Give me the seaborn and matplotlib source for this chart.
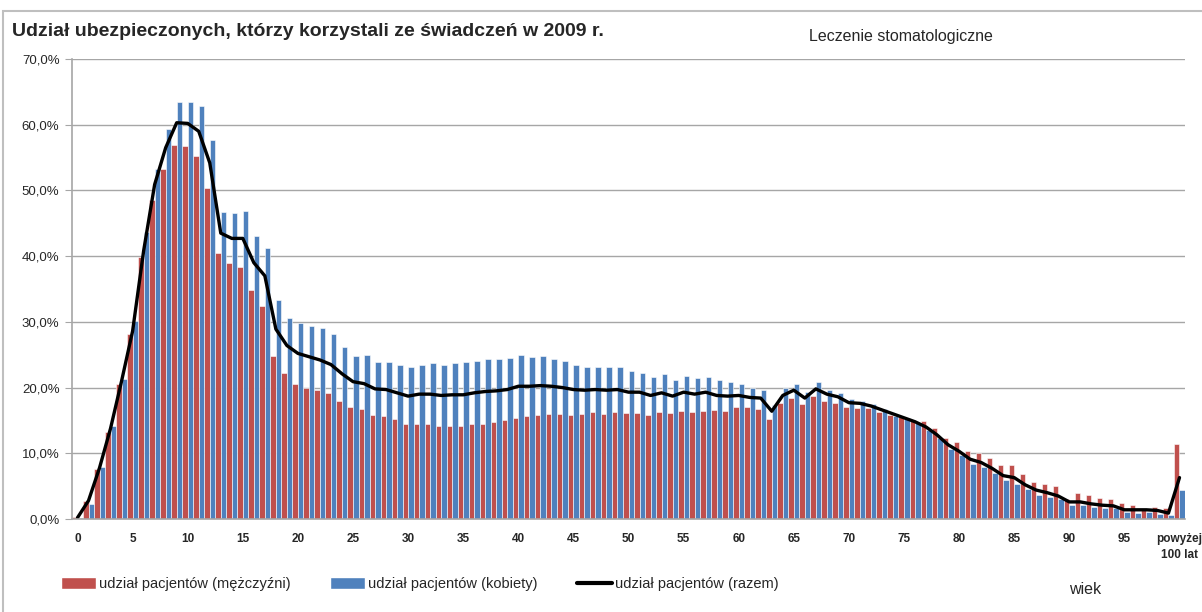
import matplotlib
matplotlib.use("Agg")
import matplotlib.pyplot as plt
from matplotlib.patches import Patch, Rectangle
from matplotlib.lines import Line2D
from matplotlib.ticker import FuncFormatter
import seaborn as sns
import pandas as pd
import numpy as np

# wiek 0..99 + "powyżej 100 lat"
ages = [str(a) for a in range(100)] + ["powyżej\n100 lat"]

men = [0.3, 2.8, 7.6, 13.2, 20.5, 28.2, 39.9, 48.5, 53.3, 56.9,
       56.8, 55.3, 50.4, 40.5, 38.9, 38.4, 34.8, 32.4, 24.8, 22.2,
       20.5, 20.0, 19.7, 19.1, 18.0, 17.0, 16.7, 15.9, 15.6, 15.2,
       14.5, 14.4, 14.5, 14.2, 14.2, 14.2, 14.5, 14.5, 14.8, 15.1,
       15.4, 15.7, 15.9, 16.0, 16.0, 15.8, 16.0, 16.3, 16.0, 16.3,
       16.1, 16.1, 15.8, 16.3, 16.1, 16.4, 16.3, 16.4, 16.6, 16.4,
       17.0, 17.0, 16.8, 15.2, 17.6, 18.4, 17.5, 18.7, 18.0, 17.6,
       17.0, 16.9, 16.9, 16.3, 15.9, 15.5, 15.1, 14.9, 13.8, 12.4,
       11.7, 10.4, 10.0, 9.3, 8.2, 8.2, 6.9, 5.7, 5.4, 5.0,
       3.1, 4.0, 3.7, 3.2, 3.1, 2.5, 2.2, 1.3, 1.9, 1.6,
       11.4]

women = [0.2, 2.3, 7.9, 14.1, 21.3, 30.2, 43.6, 53.3, 59.4, 63.5,
         63.5, 62.8, 57.7, 46.7, 46.6, 46.9, 43.0, 41.2, 33.3, 30.6,
         29.8, 29.4, 29.0, 28.2, 26.2, 24.8, 25.0, 23.9, 23.9, 23.5,
         23.2, 23.5, 23.8, 23.5, 23.8, 23.9, 24.1, 24.4, 24.4, 24.5,
         25.0, 24.7, 24.8, 24.4, 24.1, 23.5, 23.2, 23.2, 23.1, 23.1,
         22.5, 22.2, 21.6, 22.0, 21.2, 21.8, 21.5, 21.6, 21.1, 20.8,
         20.5, 19.9, 19.6, 17.3, 20.0, 20.6, 19.4, 20.8, 19.7, 19.1,
         18.2, 17.9, 17.5, 16.8, 15.7, 15.3, 14.6, 13.5, 12.4, 10.7,
         9.7, 8.3, 7.9, 7.0, 5.9, 5.4, 4.6, 3.7, 3.3, 3.0,
         2.2, 2.1, 1.9, 1.7, 1.6, 1.1, 0.9, 1.1, 0.8, 0.6,
         4.4]

total = [0.2, 2.8, 7.8, 13.8, 21.0, 28.6, 40.8, 50.9, 56.5, 60.3,
         60.2, 59.0, 54.2, 43.5, 42.7, 42.7, 39.0, 37.0, 28.9, 26.4,
         25.2, 24.7, 24.2, 23.5, 22.1, 20.9, 20.6, 19.8, 19.7, 19.2,
         18.7, 19.0, 19.0, 18.8, 18.9, 18.9, 19.2, 19.4, 19.5, 19.7,
         20.2, 20.2, 20.3, 20.2, 20.0, 19.7, 19.6, 19.7, 19.6, 19.7,
         19.3, 19.3, 18.8, 19.2, 18.7, 19.3, 19.0, 19.3, 18.8, 18.7,
         18.8, 18.5, 18.4, 16.4, 18.8, 19.6, 18.4, 19.8, 19.0, 18.6,
         17.7, 17.6, 17.2, 16.6, 16.0, 15.4, 14.8, 14.0, 12.8, 11.3,
         10.3, 9.1, 8.6, 7.7, 6.6, 6.3, 5.2, 4.4, 4.0, 3.5,
         2.6, 2.6, 2.3, 2.1, 2.0, 1.4, 1.4, 1.4, 1.3, 0.9,
         6.3]

series = ["udział pacjentów (mężczyźni)", "udział pacjentów (kobiety)", "udział pacjentów (razem)"]
RED = "#C0504D"
BLUE = "#4F81BD"
GRID = "#A6A6A6"

sns.set_style("white")
plt.rcParams["font.family"] = ["Liberation Sans Narrow", "Liberation Sans", "DejaVu Sans"]

df = pd.DataFrame({
    "wiek": ages * 2,
    "udzial": men + women,
    "plec": [series[0]] * len(ages) + [series[1]] * len(ages),
})

fig = plt.figure(figsize=(12.02, 6.12), dpi=100)
ax = fig.add_axes([72 / 1202, 93 / 612, 1113 / 1202, 460 / 612])

sns.barplot(data=df, x="wiek", y="udzial", hue="plec", order=ages,
            hue_order=series[:2], palette=[RED, BLUE], saturation=1,
            width=1.0, gap=0.0, errorbar=None, legend=False, ax=ax,
            edgecolor="white", linewidth=0.4)
sns.lineplot(x=np.arange(len(ages)), y=total, color="black", lw=2.4, ax=ax)

ax.set_xlim(-0.5, len(ages) - 0.5)
ax.set_ylim(0, 70)
ax.set_yticks(range(0, 71, 10))
ax.yaxis.set_major_formatter(FuncFormatter(lambda v, p: f"{v:.1f}%".replace(".", ",")))
ax.yaxis.grid(True, color=GRID, lw=1)
ax.set_axisbelow(True)

xt = list(range(0, 101, 5))
ax.set_xticks(xt)
ax.set_xticklabels([ages[i] for i in xt], fontweight="bold", fontsize=8.5, linespacing=1.5)
ax.tick_params(axis="x", length=0, pad=10)
ax.tick_params(axis="y", length=5, color=GRID, labelsize=9.5, pad=4, left=True, direction="out")

for s in ["top", "right"]:
    ax.spines[s].set_visible(False)
for s in ["left", "bottom"]:
    ax.spines[s].set_color(GRID)
    ax.spines[s].set_linewidth(1.2)
ax.set_xlabel("")
ax.set_ylabel("")

fig.text(12 / 1202, 1 - 31 / 612, "Udział ubezpieczonych, którzy korzystali ze świadczeń w 2009 r.",
         fontsize=14, fontweight="bold", va="center", ha="left")
fig.text(901 / 1202, 1 - 37 / 612, "Leczenie stomatologiczne", fontsize=11.5, va="center", ha="center")
fig.text(1085 / 1202, 1 - 590 / 612, "wiek", fontsize=11.5, va="center", ha="center")

handles = [Patch(facecolor=RED), Patch(facecolor=BLUE), Line2D([], [], color="black", lw=3)]
fig.legend(handles, series, loc="center left", bbox_to_anchor=(48 / 1202, 1 - 584 / 612),
           ncol=3, frameon=False, fontsize=10.5, handlelength=2.4, handleheight=0.9,
           handletextpad=0.2, columnspacing=2.7)

fig.patches.append(Rectangle((3 / 1202, -0.05), 1.1, 1.05 - 11 / 612, transform=fig.transFigure,
                             fill=False, edgecolor="#BFBFBF", lw=1.5))

fig.savefig("out.png", dpi=100)
